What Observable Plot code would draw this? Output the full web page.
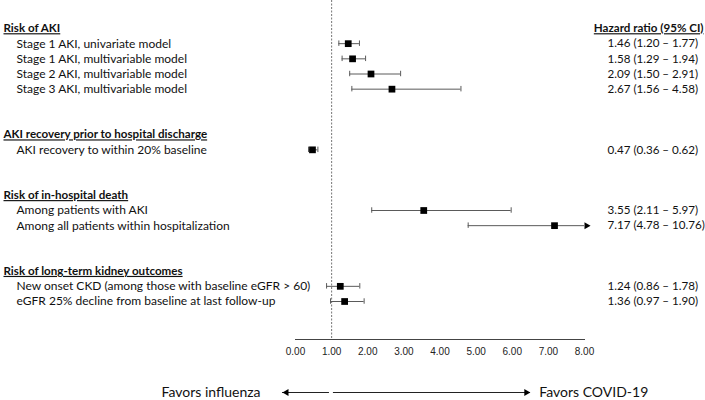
<!DOCTYPE html>
<html>
<head>
<meta charset="utf-8">
<script src="https://cdn.jsdelivr.net/npm/d3@7"></script>
<script src="https://cdn.jsdelivr.net/npm/@observablehq/plot@0.6"></script>
<style>
  html, body { margin: 0; padding: 0; background: #fff; }
</style>
</head>
<body>
<div id="chart"></div>
<script>
// ---- data ----
const groupTitles = [
  "Risk of AKI",
  "AKI recovery prior to hospital discharge",
  "Risk of in-hospital death",
  "Risk of long-term kidney outcomes"
];
const itemLabels = [
  "Stage 1 AKI, univariate model",
  "Stage 1 AKI, multivariable model",
  "Stage 2 AKI, multivariable model",
  "Stage 3 AKI, multivariable model",
  "AKI recovery to within 20% baseline",
  "Among patients with AKI",
  "Among all patients within hospitalization",
  "New onset CKD (among those with baseline eGFR > 60)",
  "eGFR 25% decline from baseline at last follow-up"
];
const itemGroup = [0, 0, 0, 0, 1, 2, 2, 3, 3];
const hazard = [1.46, 1.58, 2.09, 2.67, 0.47, 3.55, 7.17, 1.24, 1.36];
const ciLow  = [1.20, 1.29, 1.50, 1.56, 0.36, 2.11, 4.78, 0.86, 0.97];
const ciHigh = [1.77, 1.94, 2.91, 4.58, 0.62, 5.97, 10.76, 1.78, 1.90];
const tickValues = [0, 1, 2, 3, 4, 5, 6, 7, 8];
const columnHeader = "Hazard ratio (95% CI)";
const favorsLabels = ["Favors influenza", "Favors COVID-19"];
const favorsFrom = [0.94, 1.05];
const favorsTo = [-0.36, 6.5];
const favorsRow = 24;

// ---- build rows ----
const headings = [];
const items = [];
let idx = 0;
groupTitles.forEach((g, gi) => {
  if (gi > 0) idx += 2;
  headings.push({label: g, row: idx++});
  itemLabels.forEach((lab, k) => {
    if (itemGroup[k] === gi) {
      items.push({label: lab, row: idx++, hr: hazard[k], lo: ciLow[k], hi: ciHigh[k]});
    }
  });
});
const lastRow = idx - 1;

const W = 705, H = 400;
const xDomain = [0, 8];
const xRange = [295, 584];
const xMax = xDomain[1];

const fmt = v => v.toFixed(2);
items.forEach(d => {
  d.text = `${fmt(d.hr)} (${fmt(d.lo)} – ${fmt(d.hi)})`;
  d.hiClip = Math.min(d.hi, xMax);
});
const caps = [];
items.forEach(d => {
  caps.push({row: d.row, v: d.lo});
  if (d.hi <= xMax) caps.push({row: d.row, v: d.hi});
});
const overflow = items.filter(d => d.hi > xMax);
const favors = favorsLabels.map((label, i) => ({
  label, from: favorsFrom[i], to: favorsTo[i], row: favorsRow, dir: i === 0 ? -1 : 1
}));

const FONT = "Lato";
const barColor = "#5a5a5a";

const chart = Plot.plot({
  width: W,
  height: H,
  marginTop: 0,
  marginBottom: 61,
  marginLeft: 0,
  marginRight: 0,
  style: {fontFamily: FONT, background: "#fff"},
  x: {domain: xDomain, range: xRange},
  y: {type: "linear", domain: [0, lastRow], range: [28, 301], axis: null},
  marks: [
    Plot.ruleX([1], {stroke: "#666", strokeDasharray: "2,1.5", strokeWidth: 0.9}),
    Plot.frame({anchor: "bottom", insetLeft: xRange[0], insetRight: W - xRange[1], stroke: "#444"}),
    Plot.axisX({
      ticks: tickValues, tickFormat: d => d.toFixed(2), tickSize: 0, tickPadding: 8,
      fontSize: 10, fontFamily: "Liberation Sans", label: null, fill: "#222"
    }),
    // error bars
    Plot.ruleY(items, {y: "row", x1: "lo", x2: "hiClip", stroke: barColor, strokeWidth: 1}),
    Plot.ruleX(caps, {x: "v", y1: d => d.row - 0.18, y2: d => d.row + 0.18, stroke: barColor, strokeWidth: 1}),
    Plot.dot(overflow, {x: "hiClip", y: "row", symbol: "triangle", rotate: 90, r: 2.6, fill: "#000", stroke: null, dx: 2}),
    Plot.dot(items, {x: "hr", y: "row", symbol: "square", r: 3.8, fill: "#000", stroke: null}),
    // left labels
    Plot.text(headings, {y: "row", text: "label", frameAnchor: "left", dx: 3, textAnchor: "start",
      fontWeight: "bold", fontSize: 11.6, fill: "#111"}),
    Plot.text(items, {y: "row", text: "label", frameAnchor: "left", dx: 16, textAnchor: "start",
      fontSize: 12, fill: "#111"}),
    // right column
    Plot.text([columnHeader], {y: headings[0].row, text: d => d, frameAnchor: "right", dx: -2, textAnchor: "end",
      fontWeight: "bold", fontSize: 11.6, fill: "#111"}),
    Plot.text(items, {y: "row", text: "text", frameAnchor: "right", dx: -98, textAnchor: "start",
      fontSize: 11.6, fill: "#111"}),
    // favors annotation
    Plot.ruleY(favors, {y: "row", x1: "from", x2: "to", stroke: "#222", strokeWidth: 1}),
    Plot.dot(favors.filter(d => d.dir < 0), {x: "to", y: "row", symbol: "triangle", rotate: -90, r: 2.6, fill: "#000", stroke: null, dx: 4}),
    Plot.dot(favors.filter(d => d.dir > 0), {x: "to", y: "row", symbol: "triangle", rotate: 90, r: 2.6, fill: "#000", stroke: null, dx: -4}),
    Plot.text(favors.filter(d => d.dir < 0), {x: "to", y: "row", text: "label", textAnchor: "end", dx: -22, fontSize: 14, fill: "#111"}),
    Plot.text(favors.filter(d => d.dir > 0), {x: "to", y: "row", text: "label", textAnchor: "start", dx: 9, fontSize: 14, fill: "#111"})
  ]
});

const underlined = new Set([...groupTitles, columnHeader]);
d3.select(chart).selectAll("text").each(function() {
  if (underlined.has(this.textContent)) d3.select(this).attr("text-decoration", "underline");
});

document.getElementById("chart").appendChild(chart);
</script>
</body>
</html>
